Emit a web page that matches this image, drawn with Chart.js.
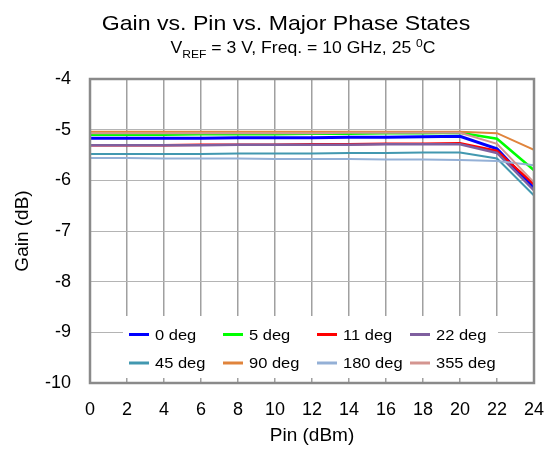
<!DOCTYPE html>
<html><head><meta charset="utf-8">
<script src="https://cdn.jsdelivr.net/npm/chart.js@4.4.1/dist/chart.umd.min.js"></script>
<style>html,body{margin:0;padding:0;background:#fff}#wrap{width:545px;height:449px;position:relative}</style>
</head><body><div id="wrap"><canvas id="c"></canvas></div>
<script>
const pin = [0,2,4,6,8,10,12,14,16,18,20,22,24];
const seriesLabels = ['0 deg','5 deg','11 deg','22 deg','45 deg','90 deg','180 deg','355 deg'];
const gain0deg   = [-5.17,-5.17,-5.17,-5.17,-5.16,-5.16,-5.16,-5.15,-5.15,-5.14,-5.13,-5.38,-6.15];
const gain5deg   = [-5.10,-5.10,-5.10,-5.09,-5.09,-5.09,-5.08,-5.08,-5.07,-5.07,-5.06,-5.18,-5.80];
const gain11deg  = [-5.31,-5.31,-5.31,-5.30,-5.30,-5.30,-5.29,-5.29,-5.28,-5.28,-5.27,-5.42,-6.08];
const gain22deg  = [-5.31,-5.31,-5.31,-5.31,-5.30,-5.30,-5.30,-5.30,-5.29,-5.29,-5.29,-5.46,-6.20];
const gain45deg  = [-5.48,-5.48,-5.48,-5.48,-5.47,-5.47,-5.47,-5.46,-5.46,-5.45,-5.45,-5.57,-6.30];
const gain90deg  = [-5.04,-5.04,-5.04,-5.04,-5.04,-5.04,-5.04,-5.04,-5.04,-5.04,-5.04,-5.07,-5.40];
const gain180deg = [-5.56,-5.56,-5.57,-5.57,-5.57,-5.58,-5.58,-5.58,-5.59,-5.59,-5.60,-5.62,-5.70];
const gain355deg = [-5.07,-5.07,-5.07,-5.07,-5.07,-5.07,-5.07,-5.06,-5.06,-5.06,-5.06,-5.28,-6.04];
const seriesValues = [gain0deg,gain5deg,gain11deg,gain22deg,gain45deg,gain90deg,gain180deg,gain355deg];
const seriesColors = ['#0000ff','#00ff00','#ff0000','#7f5f9f','#4298b0','#e0843c','#94b0d6','#d49590'];
const seriesWidths = [3,2.5,2.5,2.5,2,2,2,2];
const xTickStep = 2, yMin = -10, yMax = -4;

const FONT = '"Liberation Sans", Arial, Helvetica, sans-serif';
const STRETCH = 1.1;

const datasets = seriesLabels.map((lab,i)=>({
  label: lab,
  data: pin.map((x,j)=>({x:x, y:seriesValues[i][j]})),
  borderColor: seriesColors[i],
  backgroundColor: seriesColors[i],
  borderWidth: seriesWidths[i],
  pointRadius: 0,
  tension: 0,
  order: 8-i
}));

function wideText(ctx, t, x, y){
  ctx.save(); ctx.translate(x, y); ctx.scale(STRETCH, 1); ctx.fillText(t, 0, 0); ctx.restore();
}

const framePlugin = {
  id:'frame',
  afterDatasetsDraw(chart){
    const ctx = chart.ctx, a = chart.chartArea;
    ctx.save();
    const lx = 123, ly = 316, lw = 375, lh = 62;
    ctx.fillStyle = '#fff';
    ctx.fillRect(lx, ly, lw, lh);
    const cols = [129, 223, 317, 410];
    const rows = [334.5, 363];
    ctx.font = '15px ' + FONT;
    ctx.textBaseline = 'middle';
    ctx.textAlign = 'left';
    chart.data.datasets.forEach((ds,i)=>{
      const cx = cols[i%4], cy = rows[Math.floor(i/4)];
      ctx.strokeStyle = ds.borderColor;
      ctx.lineWidth = 3;
      ctx.beginPath(); ctx.moveTo(cx, cy); ctx.lineTo(cx+20, cy); ctx.stroke();
      ctx.fillStyle = '#000';
      wideText(ctx, ds.label, cx+26, cy+1);
    });
    ctx.strokeStyle = '#8a8a8a';
    ctx.lineWidth = 2.5;
    ctx.strokeRect(a.left, a.top, a.right-a.left, a.bottom-a.top);
    ctx.restore();
  },
  afterDraw(chart){
    const ctx = chart.ctx;
    ctx.save();
    ctx.fillStyle = '#000';
    ctx.textBaseline = 'alphabetic';
    ctx.textAlign = 'left';
    ctx.font = '21px ' + FONT;
    const t = 'Gain vs. Pin vs. Major Phase States';
    const tw = ctx.measureText(t).width * STRETCH;
    wideText(ctx, t, 286 - tw/2, 30);
    const parts = [
      {t:'V', f:'16px', dy:0},
      {t:'REF', f:'11px', dy:5},
      {t:' = 3 V, Freq. = 10 GHz, 25 ', f:'16px', dy:0},
      {t:'0', f:'11px', dy:-6},
      {t:'C', f:'16px', dy:0}
    ];
    let total = 0;
    parts.forEach(p=>{ ctx.font = p.f+' '+FONT; p.w = ctx.measureText(p.t).width * STRETCH; total += p.w; });
    let x = 303 - total/2;
    parts.forEach(p=>{ ctx.font = p.f+' '+FONT; wideText(ctx, p.t, x, 53 + p.dy); x += p.w; });
    ctx.restore();
  }
};

new Chart(document.getElementById('c'), {
  type: 'line',
  data: { datasets },
  options: {
    responsive: true,
    maintainAspectRatio: false,
    animation: false,
    layout: { padding: { top: 79, right: 11, left: 0, bottom: 0 } },
    plugins: { legend: { display:false }, tooltip: { enabled:false }, title: { display:false } },
    scales: {
      x: {
        type: 'linear', min: 0, max: 24,
        afterFit(s){ s.height = 66; s.paddingLeft = 0; s.paddingRight = 0; },
        ticks: { stepSize: xTickStep, color:'#000', font:{ family: FONT, size: 18 }, padding: 16, maxRotation: 0 },
        grid: { color:'#a0a0a0', lineWidth: 1.5, drawTicks:false },
        border: { display:false },
        title: { display:true, text:'Pin (dBm)', color:'#000', font:{ family: FONT, size: 19 }, padding:{ top: 0, bottom: 2 } }
      },
      y: {
        min: yMin, max: yMax,
        afterFit(s){ s.width = 90; s.paddingTop = 0; s.paddingBottom = 0; },
        ticks: { stepSize: 1, color:'#000', font:{ family: FONT, size: 18 }, padding: 19 },
        grid: { color:'#b4b4b4', lineWidth: 1, drawTicks:false },
        border: { display:false },
        title: { display:true, text:'Gain (dB)', color:'#000', font:{ family: FONT, size: 19 }, padding:{ top: 11, bottom: 0 } }
      }
    }
  },
  plugins: [framePlugin]
});
</script>
</body></html>
